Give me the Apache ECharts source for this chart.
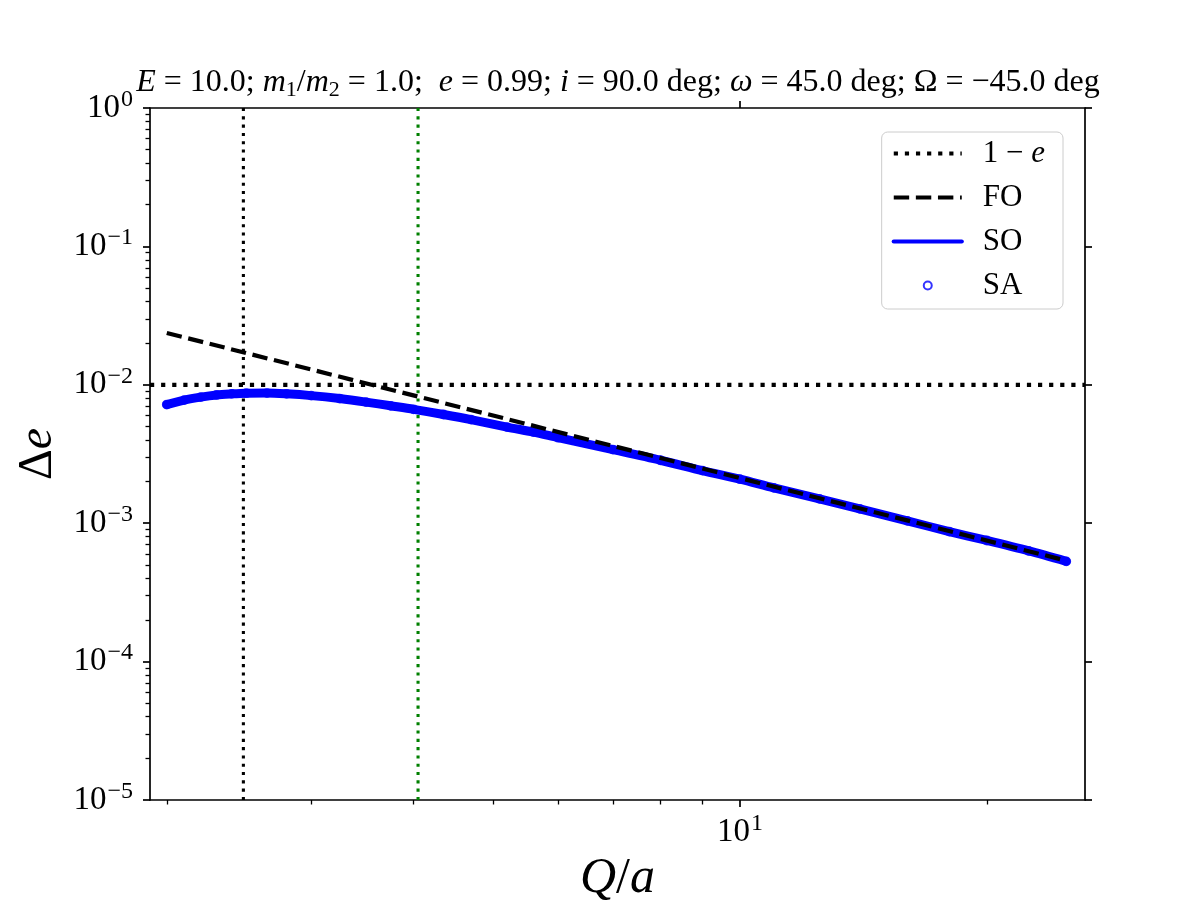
<!DOCTYPE html>
<html>
<head>
<meta charset="utf-8">
<script src="https://cdn.jsdelivr.net/npm/echarts@6/dist/echarts.min.js"></script>
<style>
  html, body { margin: 0; padding: 0; background: #fff; }
  #main { width: 1200px; height: 900px; }
</style>
</head>
<body>
<div id="main"></div>
<script>
  // axis ranges (Q/a and Delta e)
  const xMin = 1.908
  const xMax = 26.35
  const yMin = 1e-5
  const yMax = 1

  // SO / SA curve
  const qa = [2.0, 2.1, 2.2, 2.3, 2.4, 2.5, 2.65, 2.8, 3.0, 3.25, 3.5, 3.75, 4.0, 4.35, 4.7,
    5.2, 5.6, 6.0, 7.0, 8.0, 9.0, 10, 11, 12.5, 14, 16, 18, 20, 22.5, 25]
  const soValues = [7.2e-3, 7.75e-3, 8.15e-3, 8.45e-3, 8.6e-3, 8.7e-3, 8.72e-3, 8.6e-3, 8.35e-3,
    7.95e-3, 7.5e-3, 7.05e-3, 6.65e-3, 6.1e-3, 5.6e-3, 4.95e-3, 4.55e-3, 4.15e-3, 3.4e-3,
    2.85e-3, 2.4e-3, 2.08e-3, 1.8e-3, 1.5e-3, 1.27e-3, 1.04e-3, 8.7e-4, 7.5e-4, 6.3e-4, 5.3e-4]

  // FO is straight in log-log: two end points
  const foX = [2.0, 25]
  const foValues = [0.0237, 5.36e-4]

  // 1 - e
  const oneMinusE = 0.01
  // vertical reference lines
  const vBlack = 2.48
  const vGreen = 4.05

  const xMajorTicks = [10]
  const xMinorTicks = [2, 3, 4, 5, 6, 7, 8, 9, 20]
  const yMinorTicks = []
  ;[1e-5, 1e-4, 1e-3, 1e-2, 1e-1].forEach(d => {
    for (let k = 2; k <= 9; k++) yMinorTicks.push(+(k * d).toPrecision(3))
  })

  const font = '"Liberation Serif", "DejaVu Serif", serif'
  const sup = n => String(n).replace('-', '\u2212')

  const dotted = [4.2, 6.9]
  const dashed = [15.4, 6.7]

  const tickRich = {
    b: { fontFamily: font, fontSize: 33, color: '#000' },
    s: { fontFamily: font, fontSize: 24, color: '#000', padding: [0, 0, 17, 1] }
  }

  let chart = echarts.init(document.getElementById('main'))

  let option = {
    animation: false,
    backgroundColor: '#fff',
    title: {
      left: 613,
      top: 60,
      textAlign: 'center',
      text: '{i|E}{n| = 10.0; }{i|m}{sb|1}{n|/}{i|m}{sb|2}{n| = 1.0;  }{i|e}{n| = 0.99; }{i|i}{n| = 90.0 deg; }{i|\u03c9}{n| = 45.0 deg; \u03a9 = \u221245.0 deg}',
      textStyle: {
        fontWeight: 'normal',
        rich: {
          n: { fontFamily: font, fontSize: 32, fontWeight: 'normal', color: '#000' },
          i: { fontFamily: font, fontSize: 32, fontWeight: 'normal', fontStyle: 'italic', color: '#000' },
          sb: { fontFamily: font, fontSize: 22, fontWeight: 'normal', color: '#000', padding: [14, 0, 0, 0] }
        }
      }
    },
    grid: {
      left: 150,
      right: 115,
      top: 108,
      bottom: 100,
      containLabel: false,
      outerBoundsMode: 'none'
    },
    legend: {
      orient: 'vertical',
      right: 137,
      top: 132,
      padding: [6, 18, 8, 10],
      itemGap: 13,
      itemWidth: 68,
      itemHeight: 8,
      borderColor: '#cccccc',
      borderWidth: 1,
      borderRadius: 6,
      backgroundColor: 'rgba(255,255,255,0.8)',
      data: [
        { name: '1-e', itemStyle: { opacity: 0 }, lineStyle: { width: 4.2, type: dotted } },
        { name: 'FO', itemStyle: { opacity: 0 }, lineStyle: { width: 4.2, type: dashed } },
        { name: 'SO', itemStyle: { opacity: 0 }, lineStyle: { width: 4.2 } },
        { name: 'SA', icon: 'circle' }
      ],
      formatter: name => name === '1-e' ? '{n|1 \u2212 }{i|e}' : '{n|' + name + '}',
      textStyle: {
        padding: [0, 0, 0, 16],
        rich: {
          n: { fontFamily: font, fontSize: 31, color: '#000', lineHeight: 32 },
          i: { fontFamily: font, fontSize: 31, fontStyle: 'italic', color: '#000', lineHeight: 32 }
        }
      }
    },
    xAxis: [
      {
        type: 'log',
        min: xMin,
        max: xMax,
        position: 'bottom',
        name: '{i|Q}{n|/}{i|a}',
        nameLocation: 'middle',
        nameGap: 42,
        nameTextStyle: {
          rich: {
            i: { fontFamily: font, fontSize: 50, fontStyle: 'italic', color: '#000' },
            n: { fontFamily: font, fontSize: 50, color: '#000' }
          }
        },
        axisLine: { show: true, lineStyle: { color: '#000', width: 1.7 } },
        axisTick: { show: true, inside: false, length: 7, lineStyle: { color: '#000', width: 1.7 }, customValues: xMajorTicks },
        axisLabel: {
          show: true,
          margin: 12,
          customValues: xMajorTicks,
          formatter: v => '{b|10}{s|' + sup(Math.round(Math.log10(v))) + '}',
          rich: tickRich
        },
        splitLine: { show: false },
        minorTick: { show: false }
      },
      {
        type: 'log',
        min: xMin,
        max: xMax,
        position: 'bottom',
        axisLine: { show: false },
        axisTick: { show: true, inside: false, length: 4.5, lineStyle: { color: '#000', width: 1.3 }, customValues: xMinorTicks },
        axisLabel: { show: false },
        splitLine: { show: false }
      },
      {
        type: 'log',
        min: xMin,
        max: xMax,
        position: 'top',
        axisLine: { show: true, lineStyle: { color: '#000', width: 1.7 } },
        axisTick: { show: true, inside: false, length: 7, lineStyle: { color: '#000', width: 1.7 }, customValues: xMajorTicks },
        axisLabel: { show: false },
        splitLine: { show: false }
      }
    ],
    yAxis: [
      {
        type: 'log',
        logBase: 10,
        min: yMin,
        max: yMax,
        position: 'left',
        name: '{d|\u0394}{i|e}',
        nameLocation: 'middle',
        nameRotate: 90,
        nameGap: 88,
        nameTextStyle: {
          rich: {
            d: { fontFamily: font, fontSize: 48, color: '#000' },
            i: { fontFamily: font, fontSize: 48, fontStyle: 'italic', color: '#000' }
          }
        },
        axisLine: { show: true, lineStyle: { color: '#000', width: 1.7 } },
        axisTick: { show: true, inside: false, length: 7, lineStyle: { color: '#000', width: 1.7 } },
        axisLabel: {
          margin: 17,
          formatter: v => '{b|10}{s|' + sup(Math.round(Math.log10(v))) + '}',
          rich: tickRich
        },
        splitLine: { show: false }
      },
      {
        type: 'log',
        logBase: 10,
        min: yMin,
        max: yMax,
        position: 'left',
        axisLine: { show: false },
        axisTick: { show: true, inside: false, length: 4.5, lineStyle: { color: '#000', width: 1.3 }, customValues: yMinorTicks },
        axisLabel: { show: false },
        splitLine: { show: false }
      },
      {
        type: 'log',
        logBase: 10,
        min: yMin,
        max: yMax,
        position: 'right',
        axisLine: { show: true, lineStyle: { color: '#000', width: 1.7 } },
        axisTick: { show: true, inside: false, length: 7, lineStyle: { color: '#000', width: 1.7 } },
        axisLabel: { show: false },
        splitLine: { show: false }
      }
    ],
    series: [
      {
        name: 'vBlack',
        type: 'line',
        data: [[vBlack, yMin], [vBlack, yMax]],
        symbol: 'none',
        z: 1,
        lineStyle: { color: '#000', width: 3.1, type: [3.1, 5.2] }
      },
      {
        name: 'vGreen',
        type: 'line',
        data: [[vGreen, yMin], [vGreen, yMax]],
        symbol: 'none',
        z: 1,
        lineStyle: { color: '#008000', width: 3.1, type: [3.1, 5.2] }
      },
      {
        name: '1-e',
        type: 'line',
        data: [[xMin, oneMinusE], [xMax, oneMinusE]],
        symbol: 'none',
        z: 2,
        itemStyle: { color: '#000' },
        lineStyle: { color: '#000', width: 4.2, type: dotted }
      },
      {
        name: 'SO',
        type: 'line',
        data: qa.map((q, i) => [q, soValues[i]]),
        symbol: 'none',
        smooth: 0.3,
        z: 3,
        itemStyle: { color: '#0000ff' },
        lineStyle: { color: '#0000ff', width: 9, cap: 'round', join: 'round' }
      },
      {
        name: 'SA',
        type: 'scatter',
        data: qa.map((q, i) => [q, soValues[i]]),
        symbol: 'circle',
        symbolSize: 8,
        z: 4,
        itemStyle: { color: 'rgba(0,0,0,0)', borderColor: '#0000ff', borderWidth: 1.8 }
      },
      {
        name: 'FO',
        type: 'line',
        data: foX.map((q, i) => [q, foValues[i]]),
        symbol: 'none',
        z: 5,
        itemStyle: { color: '#000' },
        lineStyle: { color: '#000', width: 4.2, type: dashed }
      }
    ]
  }
  chart.setOption(option)
</script>
</body>
</html>
